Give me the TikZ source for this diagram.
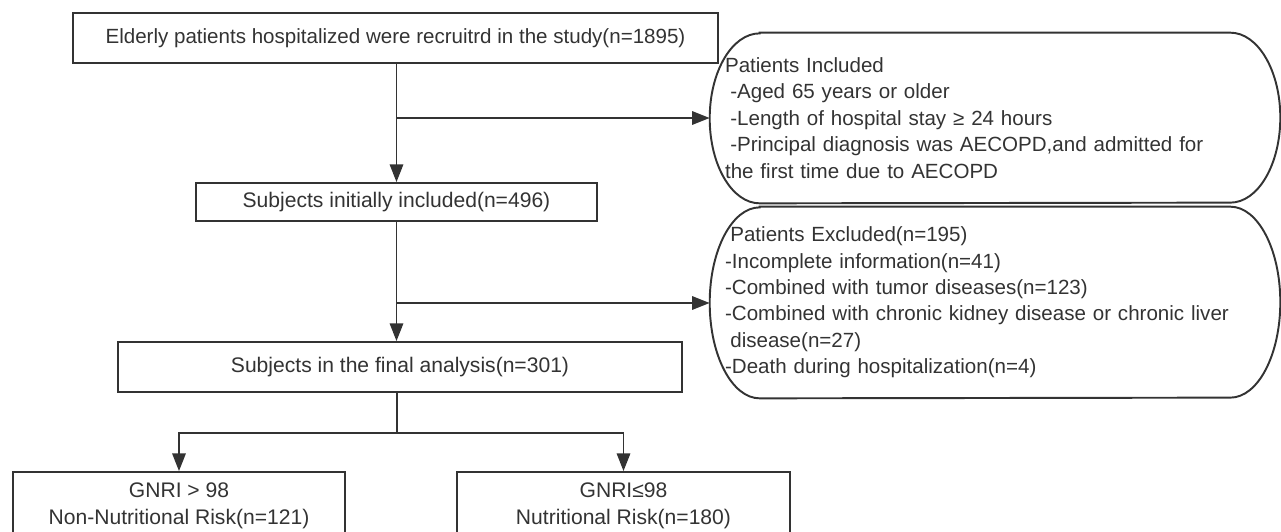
\documentclass[tikz,border=0pt]{standalone}
\usepackage{fontspec}
\setmainfont{Liberation Sans}
\usetikzlibrary{arrows.meta,positioning,calc}
\definecolor{inkgray}{RGB}{51,51,51}
\tikzset{
  frame/.style={draw=inkgray,line width=1.1pt},
  stepbox/.style={frame,rectangle,align=center,inner sep=0pt,text=inkgray},
  pill/.style={align=left,inner xsep=0.3cm,inner ysep=0pt,text=inkgray,
    minimum width=11.4cm,text width=10.8cm,font=\fontsize{11.7}{15}\selectfont},
  flow/.style={draw=inkgray,line width=1.1pt,-{Triangle[length=10pt,width=7.6pt]}},
}
% outline with half-elliptic ends round a node
\newcommand{\pillframe}[2]{\draw[frame] ([xshift=1cm]#1.north west) -- ([xshift=-1cm]#1.north east)
  arc[start angle=90,end angle=-90,x radius=1cm,y radius=#2] -- ([xshift=1cm]#1.south west)
  arc[start angle=270,end angle=90,x radius=1cm,y radius=#2] -- cycle;}

\begin{document}
\begin{tikzpicture}[x=0.02cm,y=-0.02cm,font=\fontsize{12}{15.4}\selectfont]
\useasboundingbox (0,0) rectangle (1281,531);
\clip (0,0) rectangle (1281,531);

\node[stepbox,minimum width=12.9cm,minimum height=1cm,font=\fontsize{11.7}{14}\selectfont] (recruit) at (395.5,38)
  {Elderly patients hospitalized were recruitrd in the study(n=1895)};
\node[pill,minimum height=3.4cm] (incl) at (995,118)
  {Patients Included\\
   \hspace*{3pt}-Aged 65 years or older\\
   \hspace*{3pt}-Length of hospital stay ≥ 24 hours\\
   \hspace*{3pt}-Principal diagnosis was AECOPD,and admitted for\\
   the first time due to AECOPD};
\pillframe{incl}{1.7cm}
\node[stepbox,minimum width=8.02cm,minimum height=0.76cm] (initial) at (396.5,202)
  {Subjects initially included(n=496)};
\node[pill,minimum height=3.82cm] (excl) at (995,302.5)
  {\hspace*{3pt}Patients Excluded(n=195)\\
   -Incomplete information(n=41)\\
   -Combined with tumor diseases(n=123)\\
   -Combined with chronic kidney disease or chronic liver\\
   \hspace*{3pt}disease(n=27)\\
   -Death during hospitalization(n=4)};
\pillframe{excl}{1.91cm}
\node[stepbox,minimum width=11.3cm,minimum height=1cm] (final) at (400,367)
  {Subjects in the final analysis(n=301)};
\node[stepbox,minimum width=6.64cm,minimum height=1.34cm] (nonrisk) at (179,505.5)
  {GNRI > 98\\Non-Nutritional Risk(n=121)};
\node[stepbox,minimum width=6.66cm,minimum height=1.34cm] (risk) at (623.5,505.5)
  {GNRI≤98\\Nutritional Risk(n=180)};

\coordinate (jinc) at (397,118);
\coordinate (jexc) at (397,303);
\coordinate (split) at (397,433);
\draw[flow] (initial.north |- recruit.south) -- (initial.north);
\draw[flow] (jinc) -- (jinc -| incl.west);
\draw[flow] (initial.south) -- (initial.south |- final.north);
\draw[flow] (jexc) -- (jexc -| excl.west);
\draw[frame] (split |- final.south) -- (split);
\draw[flow] (split) -| (nonrisk.north);
\draw[flow] (split) -| (risk.north);
\end{tikzpicture}
\end{document}
